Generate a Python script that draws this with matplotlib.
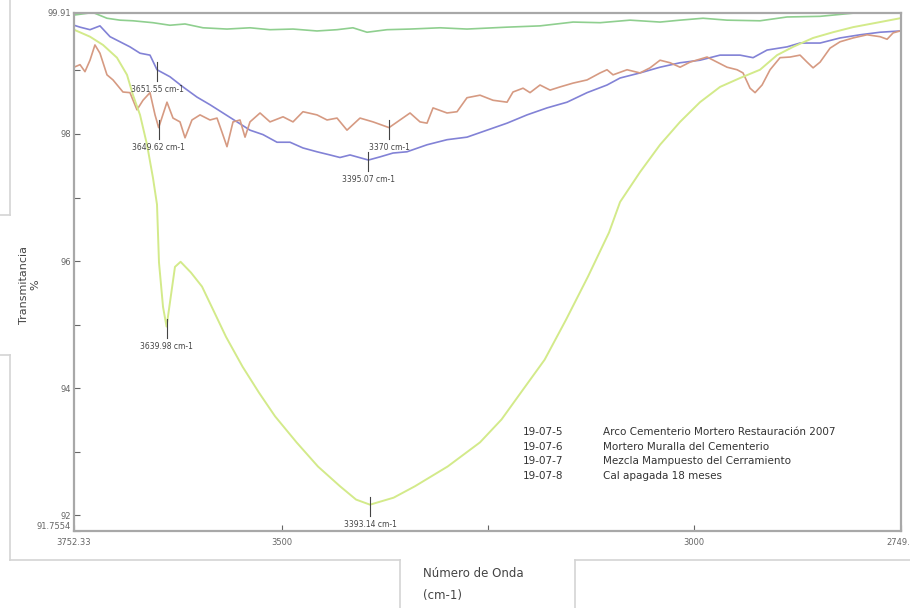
"""FTIR transmittance spectra (3752-2749 cm-1) for four mortar / lime samples."""

import matplotlib
matplotlib.use("Agg")
import matplotlib.pyplot as plt
from matplotlib.lines import Line2D

# ---------------------------------------------------------------------------
# Data
# ---------------------------------------------------------------------------
green_x = [3752.3, 3729.3, 3712.3, 3696.5, 3680.7, 3656.5, 3635.9, 3617.6, 3595.8,
           3566.7, 3538.8, 3514.5, 3486.6, 3457.5, 3433.2, 3413.9, 3396.8, 3372.5,
           3344.6, 3308.2, 3275.5, 3226.9, 3186.9, 3146.8, 3114.0, 3077.7, 3041.3,
           3017.0, 2989.1, 2960.0, 2920.0, 2887.2, 2847.1, 2807.1, 2774.3, 2750.0]
green_y = [99.87, 99.91, 99.82, 99.79, 99.78, 99.75, 99.71, 99.73, 99.67,
           99.65, 99.67, 99.64, 99.65, 99.62, 99.64, 99.67, 99.60, 99.64,
           99.65, 99.67, 99.65, 99.68, 99.70, 99.76, 99.75, 99.79, 99.76,
           99.79, 99.82, 99.79, 99.78, 99.84, 99.85, 99.90, 99.90, 99.91]

blue_x = [3752.3, 3745.0, 3732.9, 3720.8, 3708.6, 3696.5, 3684.4, 3672.2, 3660.1,
          3651.6, 3635.9, 3620.1, 3603.1, 3587.3, 3571.5, 3554.5, 3538.8, 3523.0,
          3506.0, 3490.2, 3474.5, 3457.5, 3441.7, 3429.6, 3417.4, 3395.1, 3381.0,
          3365.3, 3348.3, 3324.0, 3299.7, 3275.5, 3251.2, 3226.9, 3202.7, 3178.4,
          3154.1, 3129.8, 3105.6, 3089.8, 3065.6, 3041.3, 3017.0, 2992.8, 2968.5,
          2944.2, 2928.4, 2911.4, 2887.2, 2871.4, 2847.1, 2822.9, 2798.6, 2774.3, 2750.0]
blue_y = [99.71, 99.68, 99.64, 99.70, 99.53, 99.45, 99.37, 99.27, 99.24,
          99.01, 98.90, 98.74, 98.58, 98.46, 98.33, 98.19, 98.06, 97.99,
          97.87, 97.87, 97.78, 97.72, 97.67, 97.63, 97.67, 97.59, 97.64,
          97.70, 97.72, 97.83, 97.91, 97.95, 98.06, 98.17, 98.30, 98.41,
          98.50, 98.65, 98.77, 98.88, 98.96, 99.05, 99.12, 99.16, 99.24,
          99.24, 99.20, 99.32, 99.37, 99.43, 99.43, 99.51, 99.56, 99.60, 99.62]

red_x = [3752.3, 3745.0, 3739.0, 3732.9, 3726.9, 3720.8, 3712.3, 3705.0, 3692.9,
         3684.4, 3675.9, 3668.6, 3660.1, 3654.0, 3649.6, 3639.5, 3632.2, 3623.7,
         3617.6, 3609.2, 3599.4, 3587.3, 3578.8, 3572.8, 3566.7, 3559.4, 3550.9,
         3544.8, 3538.8, 3526.6, 3514.5, 3498.7, 3486.6, 3474.5, 3457.5, 3445.3,
         3433.2, 3421.1, 3405.3, 3389.5, 3370.1, 3356.8, 3344.6, 3332.5, 3324.0,
         3316.7, 3299.7, 3287.6, 3275.5, 3259.7, 3243.9, 3226.9, 3219.7, 3207.5,
         3199.0, 3186.9, 3174.7, 3162.6, 3146.8, 3129.8, 3114.0, 3105.6, 3098.3,
         3081.3, 3065.6, 3053.4, 3041.3, 3029.1, 3017.0, 3004.9, 2984.2, 2972.1,
         2960.0, 2947.8, 2940.6, 2932.1, 2926.0, 2917.5, 2907.8, 2895.7, 2883.5,
         2871.4, 2862.9, 2855.6, 2847.1, 2835.0, 2822.9, 2807.1, 2790.1, 2774.3,
         2765.8, 2758.5, 2750.0]
red_y = [99.05, 99.09, 98.98, 99.16, 99.40, 99.27, 98.93, 98.85, 98.66,
         98.65, 98.38, 98.53, 98.65, 98.30, 98.10, 98.50, 98.25, 98.19,
         97.94, 98.22, 98.30, 98.22, 98.25, 98.03, 97.80, 98.19, 98.22,
         97.95, 98.19, 98.33, 98.19, 98.27, 98.19, 98.35, 98.30, 98.22,
         98.25, 98.06, 98.25, 98.19, 98.10, 98.22, 98.33, 98.19, 98.17,
         98.41, 98.33, 98.35, 98.57, 98.61, 98.53, 98.50, 98.66, 98.72,
         98.65, 98.77, 98.69, 98.74, 98.80, 98.85, 98.96, 99.01, 98.93,
         99.01, 98.96, 99.04, 99.16, 99.12, 99.05, 99.13, 99.21, 99.13,
         99.05, 99.01, 98.96, 98.72, 98.65, 98.77, 99.01, 99.20, 99.21,
         99.24, 99.13, 99.04, 99.13, 99.35, 99.45, 99.51, 99.56, 99.53,
         99.49, 99.59, 99.62]

yellow_x = [3752.3, 3732.9, 3717.1, 3700.2, 3688.0, 3680.7, 3672.2, 3663.7, 3656.5,
            3651.6, 3649.2, 3644.3, 3640.0, 3635.9, 3629.8, 3623.0, 3610.4, 3597.0,
            3583.7, 3567.9, 3547.8, 3527.8, 3508.4, 3482.3, 3456.3, 3429.6, 3410.1,
            3393.2, 3364.5, 3338.6, 3299.0, 3259.7, 3233.6, 3207.5, 3181.3, 3155.3,
            3128.6, 3103.2, 3089.8, 3065.6, 3041.3, 3017.0, 2992.8, 2968.5, 2944.2,
            2920.0, 2899.3, 2879.9, 2855.6, 2831.4, 2807.1, 2774.3, 2750.0]
yellow_y = [99.64, 99.53, 99.40, 99.20, 98.93, 98.61, 98.30, 97.83, 97.31,
            96.89, 95.98, 95.28, 94.97, 95.35, 95.91, 95.99, 95.82, 95.60,
            95.24, 94.81, 94.34, 93.93, 93.56, 93.15, 92.77, 92.46, 92.25,
            92.17, 92.28, 92.46, 92.77, 93.15, 93.51, 93.98, 94.45, 95.08,
            95.76, 96.45, 96.93, 97.40, 97.83, 98.19, 98.50, 98.74, 98.88,
            99.01, 99.24, 99.37, 99.51, 99.60, 99.68, 99.76, 99.82]

# labelled peaks: wavenumber, transmittance, label
peak_x = [3651.55, 3649.62, 3395.07, 3370.0, 3639.98, 3393.14]
peak_y = [99.01, 98.10, 97.59, 98.10, 94.97, 92.17]
peak_labels = ["3651.55 cm-1", "3649.62 cm-1", "3395.07 cm-1", "3370 cm-1",
               "3639.98 cm-1", "3393.14 cm-1"]

sample_codes = ["19-07-5", "19-07-6", "19-07-7", "19-07-8"]
sample_names = ["Arco Cementerio Mortero Restauración 2007",
                "Mortero Muralla del Cementerio",
                "Mezcla Mampuesto del Cerramiento",
                "Cal apagada 18 meses"]

x_ticks = [3752.33, 3500, 3000, 2749.5]
x_ticklabels = ["3752.33", "3500", "3000", "2749.5"]
y_ticks = [91.7554, 92, 94, 96, 98, 99.91]
y_ticklabels = ["91.7554", "92", "94", "96", "98", "99.91"]

X_MAX, X_MIN = 3752.33, 2749.5
Y_MIN, Y_MAX = 91.7554, 99.91

# ---------------------------------------------------------------------------
# Plot
# ---------------------------------------------------------------------------
fig = plt.figure(figsize=(9.1, 6.08), dpi=100)
ax = fig.add_axes([0.0813, 0.1266, 0.9083, 0.8528])

ax.plot(green_x, green_y, color="#8fcf8f", lw=1.2)
ax.plot(blue_x, blue_y, color="#8282d6", lw=1.2)
ax.plot(red_x, red_y, color="#d69a82", lw=1.2)
ax.plot(yellow_x, yellow_y, color="#d3ea8a", lw=1.4)

for px, py, lab in zip(peak_x, peak_y, peak_labels):
    ax.plot([px, px], [py + 0.12, py - 0.18], color="#444444", lw=0.8)
    ax.text(px, py - 0.31, lab, ha="center", va="center", fontsize=5.5,
            color="#444444")

ax.set_xlim(X_MAX, X_MIN)
ax.set_ylim(Y_MIN, Y_MAX)
ax.set_xticks(x_ticks)
ax.set_xticklabels(x_ticklabels)
ax.set_xticks([3250], minor=True)
ax.set_yticks(y_ticks)
ax.set_yticklabels(y_ticklabels)
ax.set_yticks([93, 95, 97, 99], minor=True)
ax.tick_params(which="both", direction="in", length=4, width=0.8,
               colors="#666666", labelsize=6, pad=2)
ax.tick_params(axis="x", pad=5)
# bottom-corner label sits just above the corner, as in the reference
ax.get_yticklabels()[0].set_verticalalignment("bottom")

for sp in ax.spines.values():
    sp.set_color("#a8a8a8")
    sp.set_linewidth(1.6)

# sample list
row_y = [0.191, 0.162, 0.135, 0.106]
for ry, code, name in zip(row_y, sample_codes, sample_names):
    ax.text(0.543, ry, code, transform=ax.transAxes, fontsize=7.5,
            color="#333333", va="center")
    ax.text(0.640, ry, name, transform=ax.transAxes, fontsize=7.5,
            color="#333333", va="center")

# axis titles
fig.text(0.033, 0.531, "Transmitancia\n%", rotation=90, ha="center",
         va="center", fontsize=8, color="#444444")
fig.text(0.465, 0.056, "Número de Onda", ha="left", va="center",
         fontsize=8.5, color="#444444")
fig.text(0.465, 0.021, "(cm-1)", ha="left", va="center",
         fontsize=8.5, color="#444444")

# page frame fragments around the figure
frame = [
    ([0.011, 0.011], [1.0, 0.6464]),
    ([0.0, 0.011], [0.6464, 0.6464]),
    ([0.0, 0.011], [0.4161, 0.4161]),
    ([0.011, 0.011], [0.4161, 0.0789]),
    ([0.011, 0.4396], [0.0789, 0.0789]),
    ([0.4396, 0.4396], [0.0789, 0.0]),
    ([0.6319, 0.6319], [0.0, 0.0789]),
    ([0.6319, 1.0], [0.0789, 0.0789]),
]
for xs, ys in frame:
    fig.add_artist(Line2D(xs, ys, transform=fig.transFigure,
                          color="#d4d4d4", lw=1.2))

fig.savefig("out.png", dpi=100)
plt.close(fig)
